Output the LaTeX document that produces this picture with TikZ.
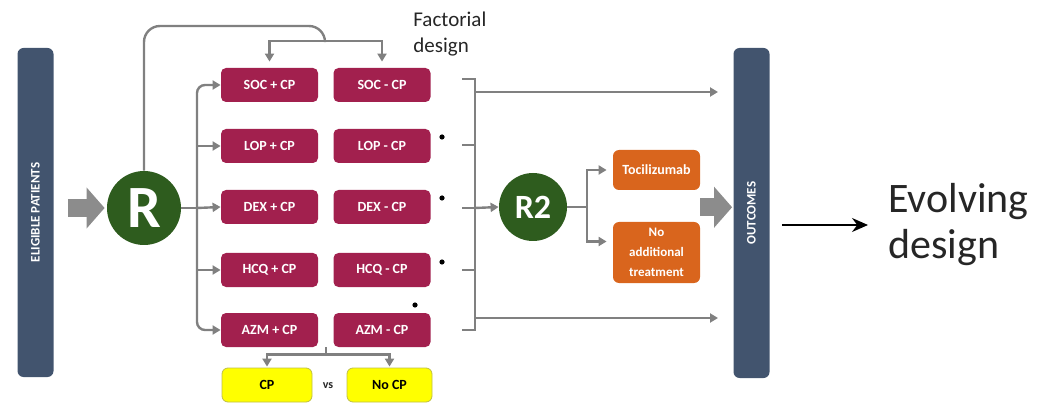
\documentclass[tikz,border=0pt]{standalone}
\usepackage{fontspec}
\setmainfont{Carlito}
\usetikzlibrary{calc,arrows.meta,positioning}

\definecolor{barblue}{RGB}{66,84,110}
\definecolor{armred}{RGB}{162,32,78}
\definecolor{randgreen}{RGB}{46,92,30}
\definecolor{treatorange}{RGB}{217,101,29}
\definecolor{linegray}{RGB}{128,128,128}
\definecolor{blockgray}{RGB}{140,140,140}
\definecolor{cpyellow}{RGB}{255,255,0}
\definecolor{cpborder}{RGB}{190,190,70}
\definecolor{darktext}{RGB}{38,38,38}

\tikzset{
    phasebar/.style={fill=barblue, rounded corners=3pt, rotate=90, minimum height=18pt, inner sep=0pt, text=white, font=\bfseries\fontsize{6.5}{8}\selectfont},
    armbox/.style={fill=armred, rounded corners=2.5pt, minimum width=48.5pt, minimum height=17pt, inner sep=0pt, text=white, font=\bfseries\fontsize{7}{8}\selectfont},
    randnode/.style={circle, fill=randgreen, inner sep=0pt, text=white},
    treatbox/.style={fill=treatorange, rounded corners=3pt, minimum width=43.5pt, inner sep=0pt, text=white, align=center, font=\bfseries\fontsize{6.5}{10}\selectfont},
    cpbox/.style={fill=cpyellow, draw=cpborder, rounded corners=3pt, minimum height=17pt, inner sep=0pt, font=\bfseries\fontsize{7}{8}\selectfont},
    blackdot/.style={circle, fill=black, inner sep=0pt, minimum size=2.6pt},
    conn/.style={draw=linegray, line width=1.2pt},
    conarrow/.style={-{Triangle[length=4pt,width=4.5pt]}},
    bigarrow/.style={draw=blockgray, line width=9pt, -{Triangle[length=9pt,width=20pt]}},
}

\begin{document}
\begin{tikzpicture}[x=0.5pt, y=-0.5pt]
    \useasboundingbox (0,0) rectangle (1038,406);

    % bars (rotated: south is the right side, north the left side)
    \node[phasebar, minimum width=164.5pt](elig)at(35.5,212.5){ELIGIBLE PATIENTS};
    \node[phasebar, minimum width=165pt](outc)at(751.5,213){OUTCOMES};

    % randomisations
    \node[randnode, minimum size=37pt, font=\bfseries\fontsize{30}{30}\selectfont](R)at(144,208){R};
    \node[randnode, minimum size=34pt, font=\bfseries\fontsize{17}{17}\selectfont](R2)at(533,207){R2};

    % arms, + CP / - CP
    \node[armbox](socp)at(269.5,85){SOC + CP};
    \node[armbox](socm)at(382,85){SOC - CP};
    \node[armbox](lopp)at(269.5,146){LOP + CP};
    \node[armbox](lopm)at(382,146){LOP - CP};
    \node[armbox](dexp)at(269.5,207){DEX + CP};
    \node[armbox](dexm)at(382,207){DEX - CP};
    \node[armbox](hcqp)at(269.5,270){HCQ + CP};
    \node[armbox](hcqm)at(382,270){HCQ - CP};
    \node[armbox](azmp)at(269.5,330){AZM + CP};
    \node[armbox](azmm)at(382,330){AZM - CP};

    % CP vs no CP
    \node[cpbox, minimum width=45pt](cp)at(267,385){CP};
    \node[cpbox, minimum width=42.5pt](nocp)at(389.5,385){No CP};
    \node[font=\bfseries\fontsize{6}{7}\selectfont, text=darktext](vs)at(328,386){vs};

    % second randomisation
    \node[treatbox, minimum height=20pt, font=\bfseries\fontsize{7}{8}\selectfont](toci)at(656.5,170){Tocilizumab};
    \node[treatbox, minimum height=30.5pt](noadd)at(656.5,252.5){No\\additional\\treatment};

    % texts (base = last line)
    \node[anchor=base west, inner sep=0pt, align=left, font=\fontsize{10.5}{13}\selectfont, text=darktext](fact)at(413,53){Factorial\\design};
    \node[anchor=base west, inner sep=0pt, align=left, font=\fontsize{21}{23}\selectfont, text=darktext](evol)at(888,258){Evolving\\design};

    % dots
    \node[blackdot](d1)at(442,137){};
    \node[blackdot](d2)at(442,198){};
    \node[blackdot](d3)at(442,262){};
    \node[blackdot](d4)at(415,305){};

    % block arrows
    \path[bigarrow, shorten <=7pt, shorten >=1pt](elig.south |- R.west)to(R.west);
    \coordinate(tmid)at($(toci.east)!0.5!(noadd.east)+(0,-4)$);
    \path[bigarrow, shorten >=0.5pt](tmid)to(tmid -| outc.north);

    % factorial loop
    \coordinate(ftop)at(325,26);
    \coordinate(fbar)at(325,41);
    \path[conn, rounded corners=8pt](R.north) |- (ftop) -- (fbar);
    \path[conn, {Triangle[length=4pt,width=4.5pt]}-{Triangle[length=4pt,width=4.5pt]}, shorten <=3pt, shorten >=3pt](socp.north) |- (fbar) -| (socm.north);

    % R to arms
    \coordinate(lsplit)at(197,208);
    \path[conn](R.east)to(lsplit);
    \path[conn, {Triangle[length=4pt,width=4.5pt]}-{Triangle[length=4pt,width=4.5pt]}, rounded corners=4pt](socp.west) -| (lsplit) |- (azmp.west);
    \path[conn, conarrow](lopp.west -| lsplit)to(lopp.west);
    \path[conn, conarrow](lsplit)to(dexp.west);
    \path[conn, conarrow](hcqp.west -| lsplit)to(hcqp.west);

    % CP split
    \coordinate(cpsplit)at($(azmp.south east)!0.5!(azmm.south west)$);
    \coordinate(cpbar)at($(cpsplit)+(0,7)$);
    \path[conn](cpsplit)to(cpbar);
    \path[conn, {Triangle[length=4pt,width=4.5pt]}-{Triangle[length=4pt,width=4.5pt]}, shorten <=0.5pt, shorten >=0.5pt](cp.north) |- (cpbar) -| (nocp.north);

    % arms to outcomes
    \coordinate(rsplit)at(475,208);
    \coordinate(t1)at(462,79);
    \coordinate(t2)at(462,145);
    \coordinate(t3)at(462,208);
    \coordinate(t4)at(462,270);
    \coordinate(t5)at(462,330);
    \path[conn](t1) -| (rsplit) |- (t5);
    \path[conn](t2)to(t2 -| rsplit);
    \path[conn](t3)to(rsplit);
    \path[conn](t4)to(t4 -| rsplit);
    \coordinate(otop)at(718,92);
    \coordinate(obot)at(718,318);
    \path[conn, conarrow](otop -| rsplit)to(otop);
    \path[conn, conarrow](obot -| rsplit)to(obot);
    \path[conn, conarrow](rsplit)to(R2.west);

    % R2 to treatments
    \coordinate(r2split)at(587,207);
    \coordinate(noaddin)at($(noadd.west)+(0,-11)$);
    \path[conn](R2.east)to(r2split);
    \path[conn, {Triangle[length=4pt,width=4.5pt]}-{Triangle[length=4pt,width=4.5pt]}, shorten <=3pt, shorten >=3pt](toci.west) -| (r2split) |- (noaddin);

    % evolving design
    \coordinate(evarr)at(868,225);
    \path[draw, line width=0.9pt, -{Stealth[length=8pt,width=7pt]}, shorten <=6pt](evarr -| outc.south)to(evarr);
\end{tikzpicture}
\end{document}
